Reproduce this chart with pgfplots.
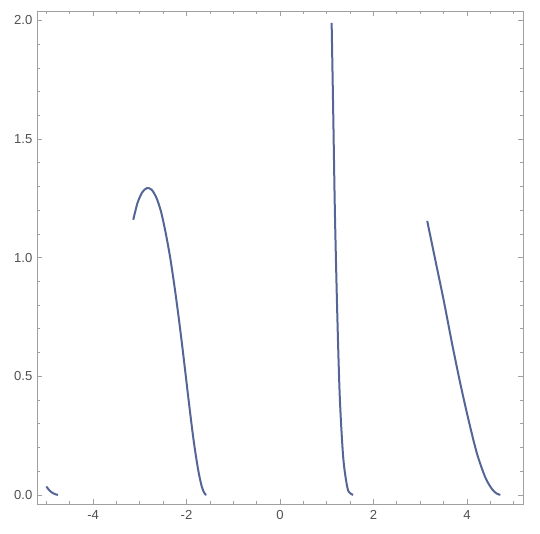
\documentclass[border=0pt]{standalone}
\usepackage{fontspec}
\setmainfont{Liberation Sans}
\usepackage{pgfplots}
\pgfplotsset{compat=1.18}
\definecolor{mline}{RGB}{84,102,150}
\definecolor{mframe}{RGB}{160,160,160}
\definecolor{mtext}{RGB}{80,80,80}
\begin{document}
\begin{tikzpicture}
\begin{axis}[
  name=ax,
  scale only axis,
  width=364.5pt, height=370pt,
  xmin=-5.2, xmax=5.2, ymin=-0.04, ymax=2.04,
  axis line style={mframe, line width=0.6pt},
  tick style={mframe, line width=0.5pt},
  tick align=inside,
  major tick length=4pt, minor tick length=2.3pt,
  xtick={-4,-2,0,2,4},
  minor xtick={-5,-4.5,-3.5,-3,-2.5,-1.5,-1,-0.5,0.5,1,1.5,2.5,3,3.5,4.5,5},
  ytick={0,0.5,1,1.5,2},
  minor ytick={0.1,0.2,0.3,0.4,0.6,0.7,0.8,0.9,1.1,1.2,1.3,1.4,1.6,1.7,1.8,1.9},
  yticklabel style={/pgf/number format/.cd, fixed, fixed zerofill, precision=1},
  /pgf/number format/assume math mode=true,
  ticklabel style={font=\fontsize{9.8}{11}\selectfont, text=mtext},
  xticklabel style={yshift=-1pt},
  clip=true,
]
\addplot[mline, line width=1.5pt, smooth] coordinates {
 (-5.0,0.035) (-4.93,0.018) (-4.86,0.007) (-4.80,0.002) (-4.75,0.0)
};
\addplot[mline, line width=1.5pt, smooth] coordinates {
 (-3.14,1.16) (-3.05,1.23) (-2.95,1.275) (-2.85,1.293) (-2.75,1.287)
 (-2.65,1.255) (-2.55,1.197) (-2.45,1.108) (-2.35,1.0) (-2.25,0.868)
 (-2.15,0.72) (-2.05,0.558) (-1.95,0.39) (-1.85,0.232) (-1.75,0.104)
 (-1.67,0.032) (-1.61,0.005) (-1.575,0.0)
};
\addplot[mline, line width=1.5pt, smooth] coordinates {
 (1.105,1.99) (1.14,1.60) (1.175,1.19) (1.226,0.76) (1.28,0.41)
 (1.354,0.155) (1.44,0.032) (1.50,0.007) (1.565,0.0)
};
\addplot[mline, line width=1.5pt, smooth] coordinates {
 (3.15,1.155) (3.327,0.987) (3.504,0.819) (3.684,0.636) (3.861,0.467)
 (4.039,0.312) (4.218,0.172) (4.395,0.073) (4.538,0.024) (4.64,0.005) (4.716,0.0)
};
\end{axis}
\path ([xshift=-27.75pt,yshift=-21.75pt]ax.south west) rectangle ([xshift=12.75pt,yshift=8.25pt]ax.north east);
\end{tikzpicture}
\end{document}
